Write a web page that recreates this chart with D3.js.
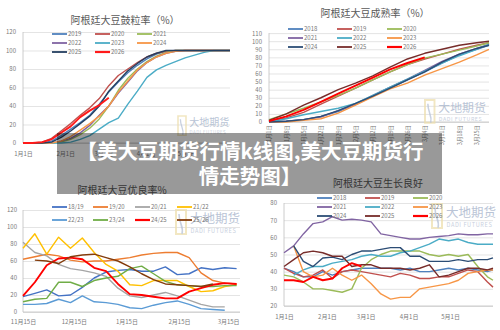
<!DOCTYPE html>
<html><head><meta charset="utf-8">
<script src="https://cdn.jsdelivr.net/npm/d3@7"></script>
<style>
body{margin:0;background:#fff}
svg{display:block}
text{font-family:"Noto Sans CJK SC","Noto Sans",sans-serif}
</style>
</head><body>
<svg id="c" width="500" height="330"></svg>
<script>
// ---------------- DATA ----------------
// Panel 1: 阿根廷大豆鼓粒率（%）
const podDates = ["2023-01-01","2023-01-08","2023-01-15","2023-01-22","2023-01-29","2023-02-05","2023-02-12","2023-02-19","2023-02-26","2023-03-05","2023-03-12","2023-03-19","2023-03-26","2023-04-02","2023-04-09","2023-04-16","2023-04-23","2023-04-30","2023-05-07","2023-05-14","2023-05-21","2023-05-28","2023-06-02"];
const podNames = ["2019","2020","2021","2022","2023","2024","2025","2026"];
const pod2019 = [0,0,0,2,8,15,22,30,42,55,66,76,84,91,96,99,100,100,100,100,100,100,100];
const pod2020 = [0,0,1,5,13,21,30,38,48,62,73,80,87,93,97,99,100,100,100,100,100,100,100];
const pod2021 = [0,0,0,0,1,4,9,16,26,40,57,70,80,88,94,98,100,100,100,100,100,100,100];
const pod2022 = [0,0,0,0,2,5,11,19,30,40,54,66,78,87,93,97,99,100,100,100,100,100,100];
const pod2023 = [0,0,0,0,0,1,4,8,15,22,27,42,56,71,79,84,88,92,95,98,100,100,100];
const pod2024 = [0,0,0,0,2,7,14,21,29,40,55,67,79,87,93,97,99,100,100,100,100,100,100];
const pod2025 = [0,0,0,1,6,13,21,29,40,56,67,78,86,93,97,100,100,100,100,100,100,100,100];
const pod2026 = [0,0,1,4,11,18,28,35,41,49,null,null,null,null,null,null,null,null,null,null,null,null,null];
const podYTicks = [0,20,40,60,80,100,120];
const podXTicks = ["2023-01-01","2023-02-01","2023-03-01","2023-04-01","2023-05-01"];

// Panel 2: 阿根廷大豆成熟率（%）
const matDates = ["2024-01-01","2024-01-08","2024-01-15","2024-01-22","2024-01-29","2024-02-05","2024-02-12","2024-02-19","2024-02-26","2024-03-04","2024-03-11","2024-03-18","2024-03-25","2024-03-30"];
const matNames = ["2018","2019","2020","2021","2022","2023","2024","2025","2026"];
const mat2018 = [0,1,3,7,13,22,32,42,52,62,73,83,90,95];
const mat2019 = [1,5,12,22,32,42,52,62,71,78,84,90,95,98];
const mat2020 = [3,10,17,25,33,42,52,62,71,79,84,89,94,98];
const mat2021 = [0,1,3,6,14,22,33,43,53,64,75,84,91,96];
const mat2022 = [0,4,9,13,17,23,33,43,53,63,73,82,90,96];
const mat2023 = [0,0,2,4,11,21,31,41,48,58,66,74,83,90];
const mat2024 = [0,1,3,7,14,23,32,42,52,62,74,84,91,95];
const mat2025 = [2,10,21,30,40,48,57,68,78,85,90,95,98,100];
const mat2026 = [1,7,15,25,35,45,55,65,73,80,null,null,null,null];
const matYTicks = [0,10,20,30,40,50,60,70,80,90,100,110];
const matXTicks = ["2024-01-01","2024-01-08","2024-01-15","2024-01-22","2024-01-29","2024-02-05","2024-02-12","2024-02-19","2024-02-26","2024-03-04","2024-03-11","2024-03-18","2024-03-25"];

// Panel 3: 阿根廷大豆优良率%
const gdDates = ["2023-11-15","2023-11-22","2023-11-29","2023-12-06","2023-12-13","2023-12-20","2023-12-27","2024-01-03","2024-01-10","2024-01-17","2024-01-24","2024-01-31","2024-02-07","2024-02-14","2024-02-21","2024-02-28","2024-03-06","2024-03-13","2024-03-20"];
const gdNames = ["18/19","19/20","20/21","21/22","22/23","23/24","24/25","25/26"];
const gd1819 = [18,22,26,19,20,29,40,47,49,50,48,48,53,44,45,52,50,52,51];
const gd1920 = [62,65,68,66,61,59,60,60,62,64,67,69,70,70,64,46,37,34,33];
const gd2021 = [82,70,66,56,51,49,46,42,28,19,17,20,23,19,14,9,6,6,null];
const gd2122 = [75,92,68,88,75,87,70,56,48,32,31,37,37,37,30,24,25,30,32];
const gd2223 = [9,9,10,15,11,19,12,11,9,5,4,8,11,13,9,4,3,2,null];
const gd2324 = [12,15,16,35,35,30,37,40,42,51,54,45,36,32,31,30,30,31,31];
const gd2425 = [19,35,55,63,64,62,52,48,33,21,20,18,16,16,24,28,32,34,33];
const gd2526 = [null,61,60,57,65,67,68,64,60,53,45,38,33,32,31,30,33,null,null];
const gdYTicks = [0,20,40,60,80,100,120];
const gdXTicks = ["2023-11-15","2023-12-15","2024-01-15","2024-02-15","2024-03-15"];

// Panel 4: 阿根廷大豆生长良好
const grDates = ["2023-01-01","2023-01-08","2023-01-15","2023-01-22","2023-01-29","2023-02-05","2023-02-12","2023-02-19","2023-02-26","2023-03-05","2023-03-12","2023-03-19","2023-03-26","2023-04-02","2023-04-09","2023-04-16","2023-04-23","2023-04-30","2023-05-07","2023-05-14","2023-05-21","2023-05-28","2023-06-01"];
const grNames = ["2018","2019","2020","2021","2022","2023","2024","2025","2026"];
const gr2018 = [42,40,37,37,40,38,40,41,42,42,42,42,41,42,40,40,41,42,41,42,41,40,41];
const gr2019 = [42,39,37,38,41,36,40,41,40,39,38,37,39,38,36,36,37,37,39,41,40,34,31];
const gr2020 = [38,37,34,30,30,29,28,30,42,47,50,52,52,52,52,50,49,50,49,50,43,37,35];
const gr2021 = [51,55,62,68,69,72,70,70.5,70,69,62,61,60,59,59,60,60.5,61,62,61.5,61.5,62,62];
const gr2022 = [null,38,41,43,43,45,46,47,49,50,49,49,51,52,54,56,59,58,59,57,56,56,56];
const gr2023 = [null,55,40,37,38,42,38,35,38,33,27,24,25,25,30,31,32,33,35,39,40,41,41];
const gr2024 = [null,55,46,43,48,48.5,47,50,52,52,53,54,54,49,49,46,46,46,47,46,47,47,48];
const gr2025 = [43,47,51,52,51,49,49,43,44,44,42,42,42,41,42,44,37,38,40,42,42,41,42];
const gr2026 = [35,35,34,37,35,36,42,45,43,null,null,null,null,null,null,null,null,null,null,null,null,null,null];
const grYTicks = [20,30,40,50,60,70,80];
const grXTicks = ["2023-01-01","2023-02-01","2023-03-01","2023-04-01","2023-05-01"];

const bannerLines = ["【美大豆期货行情k线图,美大豆期货行","情走势图】"];

// ---------------- DRAW ----------------
const svg = d3.select("#c");
svg.append("rect").attr("width",500).attr("height",330).attr("fill","#fff");
const parse = d3.timeParse("%Y-%m-%d");
const fmtMD = d => (d.getMonth()+1)+"月"+d.getDate()+"日";
const C07 = ["#4F81BD","#C0504D","#9BBB59","#8064A2","#4BACC6","#F79646","#2C4D75","#772C2A","#FF0000"];

function watermark(g, x, y, s){
  const w = g.append("g").attr("transform",`translate(${x},${y}) scale(${s})`).attr("opacity",0.75);
  w.append("path").attr("d","M0,0 h10 v24 h-10 z").attr("fill","none").attr("stroke","#eedfae").attr("stroke-width",2);
  w.append("path").attr("d","M3,4 C3,14 8,16 6,24").attr("fill","none").attr("stroke","#b7c2d6").attr("stroke-width",1.6);
  w.append("text").attr("x",14).attr("y",13).attr("font-size",12.5).attr("fill","#a3b1c9").text("大地期货");
  w.append("text").attr("x",14.5).attr("y",22.5).attr("font-size",5.6).attr("letter-spacing",0.6).attr("fill","#b6c1d4").text("DADI FUTURES");
}

function panel(p){
  const g = svg.append("g");
  const x = d3.scaleTime().domain(p.xDomain.map(parse)).range([p.x0,p.x1]);
  const y = d3.scaleLinear().domain(p.yDomain).range([p.yB,p.yT]);
  // grid + y labels
  g.append("g").attr("transform",`translate(${p.x0},0)`)
    .call(d3.axisLeft(y).tickValues(p.yTicks).tickSize(-(p.x1-p.x0)).tickPadding(p.yPad).tickFormat(d3.format("d")))
    .call(a=>a.select(".domain").remove())
    .call(a=>a.selectAll("line").attr("stroke","#d9d9d9").attr("stroke-width",0.7))
    .call(a=>a.selectAll("text").attr("font-size",6).attr("fill","#7a7a7a").style("font-family","'Noto Sans CJK SC'"));
  // axis lines
  g.append("line").attr("x1",p.x0).attr("x2",p.x0).attr("y1",y(p.yDomain[0])).attr("y2",y(p.yDomain[1])).attr("stroke","#bfbfbf").attr("stroke-width",0.8);
  g.append("line").attr("x1",p.x0).attr("x2",p.x1).attr("y1",y(p.yDomain[0])).attr("y2",y(p.yDomain[0])).attr("stroke","#bfbfbf").attr("stroke-width",0.8);
  // x labels
  const xa = g.append("g").attr("transform",`translate(0,${y(p.yDomain[0])})`)
    .call(d3.axisBottom(x).tickValues(p.xTicks.map(parse)).tickSize(0).tickPadding(p.xPad).tickFormat(fmtMD))
    .call(a=>a.select(".domain").remove())
    .call(a=>a.selectAll("text").attr("font-size",p.xFont||6).attr("fill","#7a7a7a").style("font-family","'Noto Sans CJK SC'"));
  if(p.rotate){
    xa.selectAll("text").attr("transform","rotate(-90)").attr("text-anchor","end").attr("x",-3).attr("y",0).attr("dy","0.35em");
  }
  // watermark
  watermark(g, p.wm[0], p.wm[1], p.wm[2]);
  // title
  g.append("text").attr("x",p.title[1]).attr("y",p.title[2]).attr("text-anchor","middle").attr("font-size",10).attr("fill","#595959").text(p.title[0]);
  // lines
  const dates = p.dates.map(parse);
  p.series.forEach((s,i)=>{
    const line = d3.line().defined(d=>d[1]!=null).x(d=>x(d[0])).y(d=>y(d[1]));
    g.append("path").datum(dates.map((d,j)=>[d,s.values[j]]))
      .attr("d",line).attr("fill","none").attr("stroke",s.color).attr("stroke-width",s.w||1.4).attr("stroke-linejoin","round");
  });
  // legend
  p.series.forEach((s,i)=>{
    const cx = p.leg.cols[i % p.leg.cols.length], cy = p.leg.rows[Math.floor(i / p.leg.cols.length)];
    g.append("line").attr("x1",cx).attr("x2",cx+15).attr("y1",cy).attr("y2",cy).attr("stroke",s.color).attr("stroke-width",s.w?2.2:1.8);
    g.append("text").attr("x",cx+16).attr("y",cy+2.2).attr("font-size",6).attr("fill","#7a7a7a").text(s.name);
  });
  return g;
}

function mk(names, arrs, colors, wide){
  return names.map((n,i)=>({name:n, values:arrs[i], color:colors[i], w: n===wide?1.9:null}));
}

panel({
  dates: podDates, xDomain:["2023-01-01","2023-06-02"], x0:23, x1:230,
  yDomain:[0,120], yB:143, yT:32, yTicks:podYTicks, yPad:7, xTicks:podXTicks, xPad:9,
  title:["阿根廷大豆鼓粒率（%）",125,23.5], wm:[178,116,0.8],
  series: mk(podNames,[pod2019,pod2020,pod2021,pod2022,pod2023,pod2024,pod2025,pod2026],
    ["#4F81BD","#C0504D","#9BBB59","#8064A2","#4BACC6","#F79646","#243F60","#FF1A1A"],"2026"),
  leg:{cols:[52,95,137], rows:[34,43,52]}
});

panel({
  dates: matDates, xDomain:["2024-01-01","2024-03-30"], x0:269, x1:489,
  yDomain:[0,110], yB:122, yT:33.1, yTicks:matYTicks, yPad:7, xTicks:matXTicks, xPad:3, xFont:5.5, rotate:true,
  title:["阿根廷大豆成熟率（%）",375,17], wm:[425,100,0.95],
  series: mk(matNames,[mat2018,mat2019,mat2020,mat2021,mat2022,mat2023,mat2024,mat2025,mat2026], C07,"2026"),
  leg:{cols:[288,337,387], rows:[29,38,47]}
});

panel({
  dates: gdDates, xDomain:["2023-11-15","2024-03-22"], x0:23, x1:240,
  yDomain:[0,120], yB:312, yT:210, yTicks:gdYTicks, yPad:6, xTicks:gdXTicks, xPad:8,
  title:["阿根廷大豆优良率%",122,193.5], wm:[176,210,1.0],
  series: mk(gdNames,[gd1819,gd1920,gd2021,gd2122,gd2223,gd2324,gd2425,gd2526],
    ["#4472C4","#ED7D31","#A5A5A5","#FFC000","#5B9BD5","#70AD47","#FF0000","#843C0C"],"24/25"),
  leg:{cols:[52,93,135,177], rows:[207,220]}
});

panel({
  dates: grDates, xDomain:["2023-01-01","2023-06-01"], x0:284, x1:493,
  yDomain:[20,80], yB:306, yT:203, yTicks:grYTicks, yPad:7, xTicks:grXTicks, xPad:9,
  title:["阿根廷大豆生长良好",378,186.5], wm:[432,204,1.0],
  series: mk(grNames,[gr2018,gr2019,gr2020,gr2021,gr2022,gr2023,gr2024,gr2025,gr2026], C07,"2026"),
  leg:{cols:[317,365,413], rows:[198,207,216]}
});

// overlay banner
svg.append("rect").attr("x",57).attr("y",133).attr("width",385).attr("height",61).attr("fill","rgba(0,0,0,0.4)");
bannerLines.forEach((t,i)=>{
  svg.append("text").attr("x",250).attr("y",158.5+i*25).attr("text-anchor","middle")
    .attr("font-size",20.5).attr("font-weight","bold").attr("fill","#fff").text(t);
});
</script>
</body></html>
